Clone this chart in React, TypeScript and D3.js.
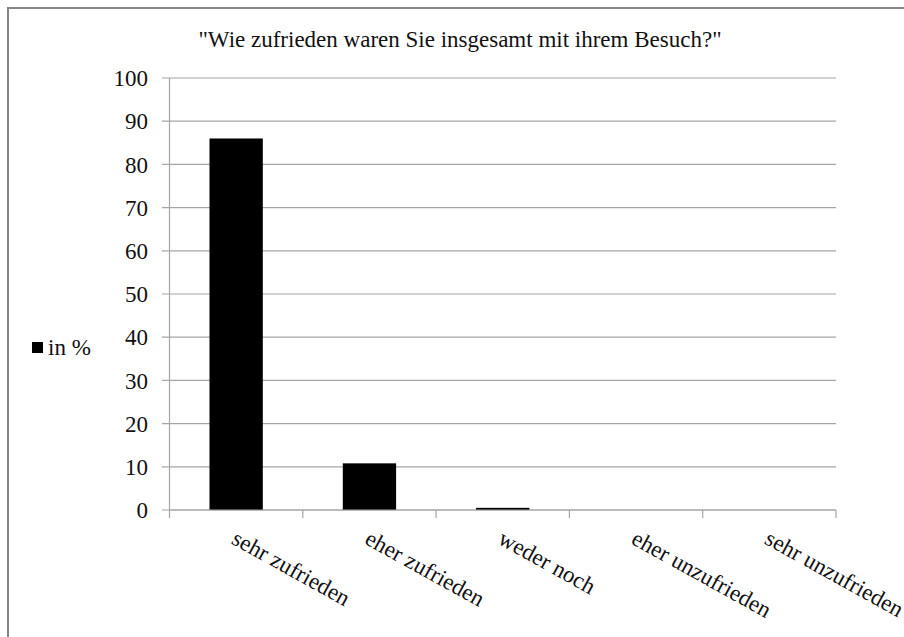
import React, { useEffect } from 'react';
import * as d3 from 'd3';

const categories = ['sehr zufrieden', 'eher zufrieden', 'weder noch', 'eher unzufrieden', 'sehr unzufrieden'];
const values = [86, 10.8, 0.5, 0, 0];
const yTicks = [0, 10, 20, 30, 40, 50, 60, 70, 80, 90, 100];
const seriesName = 'in %';
const title = '"Wie zufrieden waren Sie insgesamt mit ihrem Besuch?"';

const W = 904;
const H = 637;
const FONT = "'Liberation Serif', 'Times New Roman', Times, serif";

export default function App() {
  useEffect(() => {
    document.body.style.margin = '0';
  }, []);

  const plot = { left: 169.5, right: 836, top: 78, bottom: 510 };

  const y = d3.scaleLinear().domain([0, 100]).range([plot.bottom, plot.top]);
  const xCat = d3.scaleBand<string>().domain(categories).range([plot.left, plot.right]).padding(0);
  const xBar = d3.scaleBand<string>()
    .domain(categories)
    .range([plot.left, plot.right])
    .paddingInner(0.6)
    .paddingOuter(0.3);

  const boundaries = [...categories.map(c => xCat(c)!), plot.right];
  const gridColor = '#a6a6a6';
  const txt = { fontFamily: FONT, fontSize: 23, fill: '#111' };

  return (
    <svg width={W} height={H} style={{ display: 'block', background: '#fff', fontFamily: FONT }}>
      {/* outer frame, runs past right and bottom edge */}
      <rect x={8} y={8} width={W + 20} height={H + 20} fill="#fff" stroke="#868686" strokeWidth={2} />

      <text x={460} y={47} textAnchor="middle" style={txt}>{title}</text>

      {/* gridlines + y labels */}
      {yTicks.map(t => (
        <g key={t}>
          <line x1={162} x2={plot.right} y1={y(t)} y2={y(t)} stroke={gridColor} strokeWidth={1.2} />
          <text x={148} y={y(t)} dy="0.36em" textAnchor="end" style={txt}>{t}</text>
        </g>
      ))}

      {/* y axis */}
      <line x1={plot.left} x2={plot.left} y1={plot.top} y2={plot.bottom} stroke={gridColor} strokeWidth={1.2} />

      {/* bars */}
      {categories.map((c, i) => (
        values[i] > 0 ? (
          <rect key={c} x={xBar(c)} y={y(values[i])} width={xBar.bandwidth()} height={y(0) - y(values[i])} fill="#000" />
        ) : null
      ))}

      {/* x axis + ticks */}
      <line x1={plot.left} x2={plot.right} y1={plot.bottom} y2={plot.bottom} stroke={gridColor} strokeWidth={1.2} />
      {boundaries.map((b, i) => (
        <line key={i} x1={b} x2={b} y1={plot.bottom} y2={plot.bottom + 8} stroke={gridColor} strokeWidth={1.2} />
      ))}

      {/* rotated category labels */}
      {categories.map(c => {
        const cx = xCat(c)! + xCat.bandwidth() / 2 - 6;
        const cy = plot.bottom + 33;
        return (
          <text key={c} x={cx} y={cy} transform={`rotate(29, ${cx}, ${cy})`} style={txt}>{c}</text>
        );
      })}

      {/* legend */}
      <rect x={32} y={342} width={11} height={11} fill="#000" />
      <text x={48} y={355} style={txt}>{seriesName}</text>
    </svg>
  );
}
